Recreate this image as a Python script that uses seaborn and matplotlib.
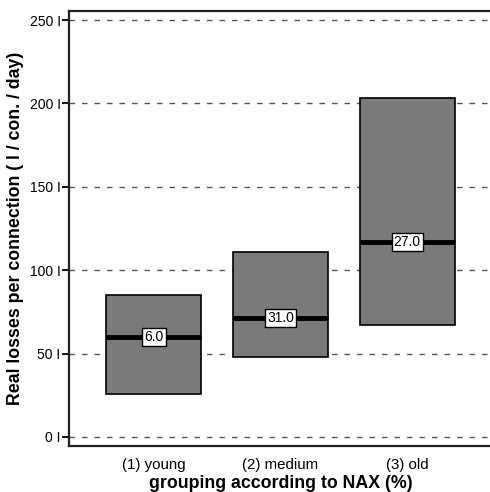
import numpy as np
import pandas as pd
import matplotlib
matplotlib.use("Agg")
import matplotlib.pyplot as plt
import seaborn as sns

categories = ["(1) young", "(2) medium", "(3) old"]
q1 = [26, 48, 67]
median = [60, 71.5, 117]
q3 = [85, 111, 203]
box_labels = ["6.0", "31.0", "27.0"]
yticks = [0, 50, 100, 150, 200, 250]

sns.set_theme(style="white")
plt.rcParams["font.family"] = ["Liberation Sans", "DejaVu Sans"]
plt.rcParams["text.color"] = "black"
plt.rcParams["axes.labelcolor"] = "black"
plt.rcParams["xtick.color"] = "black"
plt.rcParams["ytick.color"] = "black"

rows = []
for c, a, m, b in zip(categories, q1, median, q3):
    for v in (a, a, m, b, b):
        rows.append({"group": c, "value": v})
df = pd.DataFrame(rows)

fig = plt.figure(figsize=(4.9, 4.92), dpi=100)
ax = fig.add_axes([69/490, 1-446/492, 423/490, 435/492])

for t in yticks:
    ax.axhline(t, color="#555555", ls=(0, (4, 5)), lw=1, zorder=0)

sns.boxplot(data=df, x="group", y="value", order=categories, ax=ax,
            width=0.75, whis=0, showcaps=False, showfliers=False,
            color="#7a7a7a", saturation=1,
            boxprops=dict(facecolor="#7a7a7a", edgecolor="black", linewidth=1.2, zorder=2),
            medianprops=dict(color="black", linewidth=3.5, zorder=3),
            whiskerprops=dict(linewidth=0), linecolor="black")

for i, (m, lab) in enumerate(zip(median, box_labels)):
    ax.text(i, m, lab, ha="center", va="center", fontsize=10, zorder=5,
            bbox=dict(boxstyle="square,pad=0.15", fc="white", ec="black", lw=1))

ax.set_ylim(-5.4, 255.4)
ax.set_xlim(-0.67, 2.67)
ax.set_yticks(yticks)
ax.set_yticklabels([f"{t} I" for t in yticks], fontsize=10)
ax.tick_params(axis="y", left=True, length=5, width=1.3, color="black", pad=1)
ax.tick_params(axis="x", bottom=False, labelsize=10.8, pad=3)
for s in ["left", "bottom", "top"]:
    ax.spines[s].set_linewidth(1.6)
    ax.spines[s].set_color("#222222")
ax.spines["right"].set_visible(False)
ax.set_xlabel("grouping according to NAX (%)", fontsize=12.8, fontweight="bold", labelpad=2)
ax.set_ylabel("Real losses per connection ( l / con. / day)", fontsize=12.8, fontweight="bold", labelpad=4)

fig.savefig("out.png", dpi=100)
